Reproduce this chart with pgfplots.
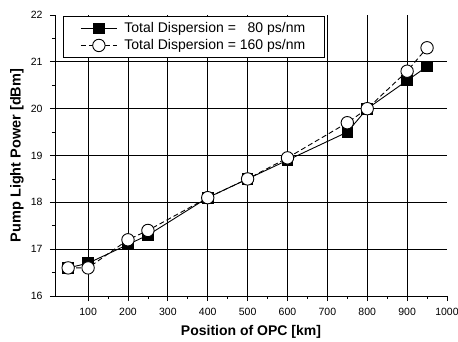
\documentclass[border=0pt]{standalone}
\usepackage{fontspec}
\setmainfont{Liberation Sans}
\usepackage{pgfplots}
\pgfplotsset{compat=1.18}
\begin{document}
\begin{tikzpicture}
\useasboundingbox (-55pt,-45pt) rectangle (403pt,296pt);
\begin{axis}[
  scale only axis,
  width=392pt, height=281pt,
  xmin=17, xmax=1000, ymin=16, ymax=22,
  axis x line*=bottom, axis y line*=left,
  axis line style={line width=0.9pt},
  xtick={100,200,...,1000},
  ytick={16,17,...,22},
  minor x tick num=1, minor y tick num=1,
  tick align=outside,
  major tick length=5pt, minor tick length=3pt,
  tick style={line width=0.8pt,black},
  /pgf/number format/assume math mode=true,
  /pgf/number format/1000 sep={},
  ticklabel style={font=\fontsize{10.5}{12}\selectfont},
  xticklabel style={yshift=-4pt},
  yticklabel style={xshift=-4pt},
  xlabel={\bfseries Position of OPC [km]},
  ylabel={\bfseries Pump Light Power [dBm]},
  every axis x label/.style={font=\fontsize{14}{16}\selectfont, at={(axis description cs:0.5,0)}, yshift=-36pt, anchor=center},
  every axis y label/.style={font=\fontsize{14.5}{16}\selectfont, at={(axis description cs:0,0.5)}, xshift=-38pt, anchor=center, rotate=90},
  legend style={at={(axis description cs:0.0204,0.9964)}, anchor=north west,
    font=\fontsize{14}{18}\selectfont, draw=black, line width=0.9pt,
    inner xsep=17pt, inner ysep=4pt, row sep=1.5pt, legend cell align=left},
  legend image code/.code={\draw[mark repeat=2,mark phase=2] plot coordinates {(0pt,0pt) (18pt,0pt) (36pt,0pt)};},
  clip=false,
]
\foreach \x in {100,200,...,900} {
  \edef\temp{\noexpand\draw[black,line width=0.8pt] (axis cs:\x,16) -- (axis cs:\x,22);}
  \temp
}
\foreach \y in {17,18,...,21} {
  \edef\temp{\noexpand\draw[black,line width=0.8pt] (axis cs:17,\y) -- (axis cs:1000,\y);}
  \temp
}
\addplot[black, line width=0.9pt, mark=square*, mark size=5.3pt, mark options={solid, fill=black}]
  coordinates {(50,16.6) (100,16.7) (200,17.1) (250,17.3) (400,18.1) (500,18.5) (600,18.9) (750,19.5) (800,20.0) (900,20.6) (950,20.9)};
\addlegendentry{\hspace*{5pt}Total Dispersion = \phantom{1}80 ps/nm}
\addplot[black, line width=0.9pt, dashed, dash pattern=on 5pt off 3pt, mark=*, mark size=6.2pt, mark options={solid, fill=white}]
  coordinates {(50,16.6) (100,16.6) (200,17.2) (250,17.4) (400,18.1) (500,18.5) (600,18.95) (750,19.7) (800,20.0) (900,20.8) (950,21.3)};
\addlegendentry{\hspace*{5pt}Total Dispersion = 160 ps/nm}
\end{axis}
\end{tikzpicture}
\end{document}
